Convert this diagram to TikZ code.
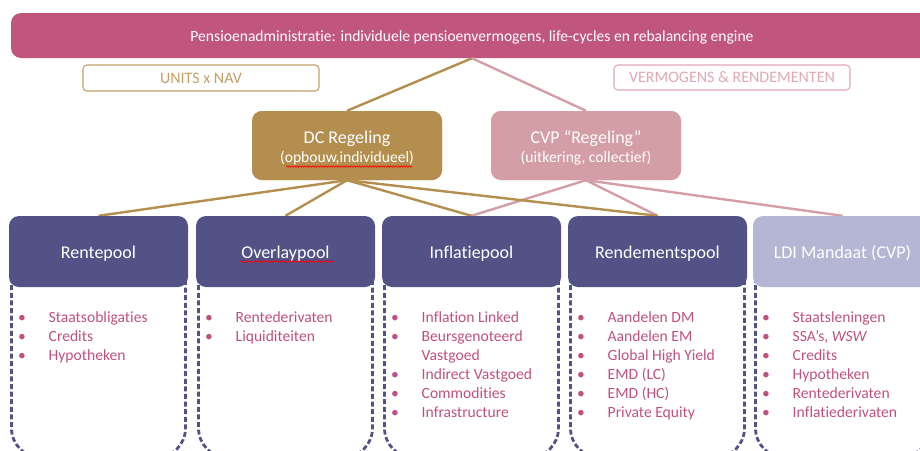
\documentclass[tikz,border=0pt]{standalone}
\usepackage{fontspec}
\setmainfont{Carlito}[Ligatures=NoCommon]
\usetikzlibrary{decorations.pathmorphing}

\definecolor{bannerpink}{HTML}{C0557E}
\definecolor{dcgold}{HTML}{B38E4E}
\definecolor{cvppink}{HTML}{D39EA5}
\definecolor{pooldark}{HTML}{525287}
\definecolor{poollight}{HTML}{B5B5D4}
\definecolor{itempink}{HTML}{C0507E}
\definecolor{tagpink}{HTML}{E0A8B4}
\definecolor{taggold}{HTML}{C29F66}

\tikzset{
  conn/.style={line width=2.4pt},
  goldline/.style={conn, draw=dcgold},
  pinkline/.style={conn, draw=cvppink},
  poolhead/.style={rectangle, rounded corners=10pt, minimum width=179pt,
    minimum height=71pt, inner sep=0pt},
  poolframe/.style={draw=pooldark, line width=2.8pt,
    dash pattern=on 5pt off 2.6pt, rounded corners=30pt},
  regbox/.style={rectangle, rounded corners=10pt, minimum width=190pt,
    minimum height=69pt, inner sep=0pt},
  tagbox/.style={rectangle, rounded corners=4pt, line width=1.1pt,
    minimum width=236pt, minimum height=26pt, inner sep=0pt,
    font=\fontsize{16}{19}\selectfont},
  bigtext/.style={anchor=base, text=white, inner sep=0pt,
    font=\fontsize{18}{21}\selectfont},
  smalltext/.style={anchor=base, text=white, inner sep=0pt,
    font=\fontsize{15.6}{18}\selectfont},
  itemtext/.style={anchor=base west, text=itempink, inner sep=0pt,
    font=\fontsize{15.6}{18}\selectfont},
  bullettext/.style={anchor=base, text=itempink, inner sep=0pt,
    font=\fontsize{15.6}{18}\selectfont},
  spell/.style={draw=red, line width=0.6pt, decorate,
    decoration={snake, amplitude=0.8pt, segment length=2.6pt}},
}

% #1 name prefix, #2 left edge of the pool, #3 list of flag/text
% (flag 1 = bulleted line, 0 = continuation line)
\newcommand\poolitems[3]{%
  \foreach \b/\t [count=\i] in {#3} {
    \pgfmathsetmacro\yy{322.5+18.9*(\i-1)}
    \ifnum\b=1
      \node[bullettext] (#1-b\i) at ({#2+13}, \yy) {•};
    \fi
    \node[itemtext] (#1-t\i) at ({#2+39.5}, \yy) {\t};
  }%
}

\begin{document}
\begin{tikzpicture}[x=1pt, y=-1pt]
  \useasboundingbox (0,0) rectangle (920,450);
  \clip (0,0) rectangle (920,450);

  % top banner
  \node[rectangle, rounded corners=10pt, fill=bannerpink, minimum width=922pt,
        minimum height=45pt, inner sep=0pt] (banner) at (472,35.5) {};
  \node[smalltext] (bannertxt) at (472,41.5)
    {Pensioenadministratie: individuele pensioenvermogens, life-cycles en rebalancing engine};

  % tags
  \node[tagbox, draw=taggold, text=taggold] (units) at (201,78) {UNITS x NAV};
  \node[tagbox, draw=tagpink, text=tagpink, minimum height=25pt] (vermogens) at (732,77.5)
    {VERMOGENS \& RENDEMENTEN};

  % scheme boxes (placed first so connectors can refer to them)
  \node[regbox, fill=dcgold] (dc) at (347,145.5) {};
  \node[regbox, fill=cvppink] (cvp) at (586,145.5) {};

  % pool headers
  \node[poolhead] (rente)   at (98.5,251.5) {};
  \node[poolhead] (overlay) at (285.5,251.5) {};
  \node[poolhead] (inflatie) at (471.5,251.5) {};
  \node[poolhead] (rendement) at (657.5,251.5) {};
  \node[poolhead] (ldi) at (842.5,251.5) {};

  % connectors
  \draw[goldline] (banner.south) -- (dc.north);
  \draw[pinkline] (banner.south) -- (cvp.north);
  \draw[pinkline] (cvp.south) -- (inflatie.north);
  \draw[pinkline] (cvp.south) -- (rendement.north);
  \draw[pinkline] (cvp.south) -- (ldi.north);
  \draw[goldline] (dc.south) -- (rente.north);
  \draw[goldline] (dc.south) -- (overlay.north);
  \draw[goldline] (dc.south) -- (inflatie.north);
  \draw[goldline] (dc.south) -- (rendement.north);

  % dashed pool frames
  \foreach \x in {9,196,382,568,753} {
    \draw[poolframe] ({\x+2.5},270) -- ({\x+2.5},458) -- ({\x+176.5},458) -- ({\x+176.5},270);
  }

  % scheme boxes drawn on top of connector ends
  \fill[dcgold, rounded corners=10pt] (252,111) rectangle (442,180);
  \fill[cvppink, rounded corners=10pt] (491,111) rectangle (681,180);
  \node[bigtext] (dct1) at (347,143.3) {DC Regeling};
  \node[smalltext] (dct2) at (347,162.3) {(opbouw,individueel)};
  \node[bigtext] (cvpt1) at (586,143.3) {CVP “Regeling”};
  \node[smalltext] (cvpt2) at (586,162.3) {(uitkering, collectief)};
  \draw[spell] (286,166.5) -- (412,166.5);

  % pool header fills
  \foreach \x/\c in {9/pooldark,196/pooldark,382/pooldark,568/pooldark,753/poollight} {
    \fill[\c, rounded corners=10pt] (\x,216) rectangle ({\x+179},287);
  }
  \node[bigtext] (rentet) at (98.5,258) {Rentepool};
  \node[bigtext] (overlayt) at (285.5,258) {Overlaypool};
  \draw[spell] (240,261.5) -- (333,261.5);
  \node[bigtext] (inflatiet) at (471.5,258) {Inflatiepool};
  \node[bigtext] (rendementt) at (657.5,258) {Rendementspool};
  \node[bigtext] (ldit) at (842.5,258) {LDI Mandaat (CVP)};

  % pool contents
  \poolitems{rp}{9}{1/Staatsobligaties, 1/Credits, 1/Hypotheken}
  \poolitems{op}{196}{1/Rentederivaten, 1/Liquiditeiten}
  \poolitems{ip}{382}{1/Inflation Linked, 1/Beursgenoteerd, 0/Vastgoed,
    1/Indirect Vastgoed, 1/Commodities, 1/Infrastructure}
  \poolitems{dp}{568}{1/Aandelen DM, 1/Aandelen EM, 1/Global High Yield,
    1/EMD (LC), 1/EMD (HC), 1/Private Equity}
  \poolitems{lp}{753}{1/Staatsleningen, 1/{SSA’s, \textit{WSW}}, 1/Credits,
    1/Hypotheken, 1/Rentederivaten, 1/Inflatiederivaten}
\end{tikzpicture}
\end{document}
